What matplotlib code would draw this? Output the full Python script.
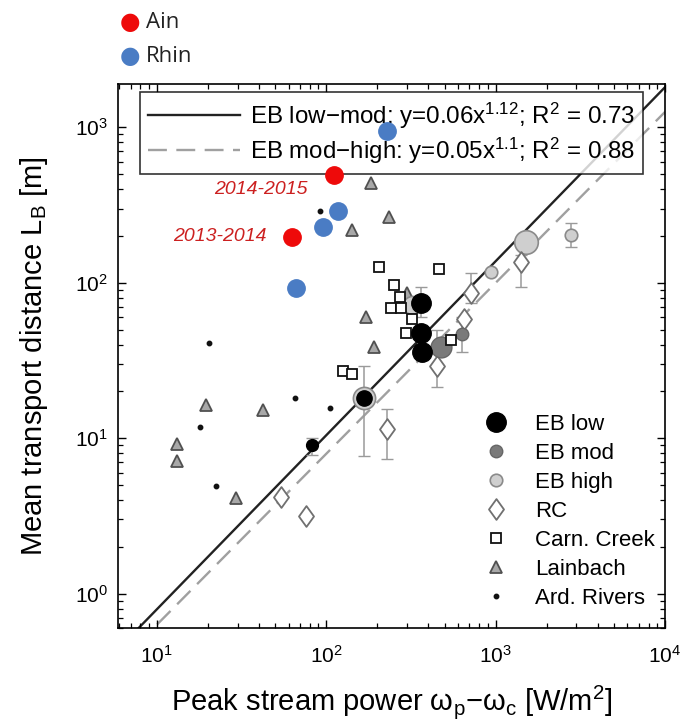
import numpy as np
import matplotlib
matplotlib.use("Agg")
import matplotlib.pyplot as plt
from matplotlib.lines import Line2D
from matplotlib.path import Path

plt.rcParams['font.family'] = ['Liberation Sans', 'DejaVu Sans']
plt.rcParams['mathtext.fontset'] = 'custom'
plt.rcParams['mathtext.rm'] = 'Liberation Sans'
plt.rcParams['mathtext.it'] = 'Liberation Sans:italic'
plt.rcParams['mathtext.bf'] = 'Liberation Sans:bold'

# ---------------- data ----------------
ain_x = [111.4, 63.1]
ain_y = [492, 197]
ain_labels = ["2014-2015", "2013-2014"]

rhin_x = [228.6, 117.7, 96.0, 66.7]
rhin_y = [943, 290, 228.6, 92.9]

eb_low_x = [82.8, 167.5, 362, 362, 367]
eb_low_y = [9.0, 18.0, 74.5, 47.8, 35.6]

eb_mod_x = [474, 631]
eb_mod_y = [38.3, 47.1]

eb_high_x = [167.5, 321, 935, 1521, 2800]
eb_high_y = [18.0, 72, 118, 183, 203]

rc_x = [54.3, 76.2, 228, 450, 648, 713, 1403]
rc_y = [4.19, 3.16, 11.4, 29, 58, 86.3, 136]

carn_x = [205, 462, 251, 272, 241, 276, 321, 296, 543, 126, 142]
carn_y = [127, 123, 97, 81.3, 69, 69, 58, 47.8, 43.1, 26.9, 25.7]

lain_x = [184, 235, 142, 299, 172, 191, 19.4, 42.1, 13.1, 13.1, 29.2]
lain_y = [437, 265, 219, 86, 60.5, 38.3, 16.3, 15.1, 9.15, 7.1, 4.1]

ard_x = [92.2, 20.2, 65.8, 105.6, 17.9, 22.5]
ard_y = [290, 41.2, 18.0, 15.6, 11.8, 4.9]

err_x = [167.5, 362, 82.8, 2800, 631, 228, 450, 713, 1403]
err_lo = [7.7, 60, 7.8, 170, 35.6, 7.3, 21.2, 74, 94]
err_hi = [29, 94, 10, 243, 60.5, 15.3, 50, 115, 151]

fit_low_a, fit_low_b = 0.06, 1.12
fit_high_a, fit_high_b = 0.05, 1.1

# marker sizes (points)
eb_low_ms = [8.5, 11, 14, 14, 14]
eb_mod_ms = [15, 9]
eb_high_ms = [16, 13, 9, 17, 9]

# ---------------- figure ----------------
fig = plt.figure(figsize=(6.83, 7.24), dpi=100)
ax = fig.add_axes([118/683, 96/724, 547/683, 544/724])
ax.set_xscale('log')
ax.set_yscale('log')
ax.set_xlim(5.9, 1e4)
ax.set_ylim(0.6, 1900)

xf = np.logspace(0, 4.5, 200)
ax.plot(xf, fit_low_a * xf**fit_low_b, color='#222222', lw=1.7, zorder=1,
        label="EB low\u2212mod: y=0.06x$^{1.12}$; R$^2$ = 0.73")
ax.plot(xf, fit_high_a * xf**fit_high_b, color='#a0a0a0', lw=1.7, ls=(0, (8, 4)), zorder=1,
        label="EB mod\u2212high: y=0.05x$^{1.1}$; R$^2$ = 0.88")

err_lo_a = np.array(err_lo)
err_hi_a = np.array(err_hi)
ax.errorbar(err_x, err_lo_a, yerr=[np.zeros_like(err_lo_a), err_hi_a - err_lo_a],
            fmt='none', ecolor='#9a9a9a', elinewidth=1.1, capsize=4.5, zorder=2)

diam = Path([(0, 1), (0.72, 0), (0, -1), (-0.72, 0), (0, 1)],
            [Path.MOVETO, Path.LINETO, Path.LINETO, Path.LINETO, Path.CLOSEPOLY])

ax.plot(lain_x, lain_y, ls='none', marker='^', ms=9, mfc='#a8a8a8', mec='#505050', mew=1.3, zorder=3)
ax.plot(ard_x, ard_y, ls='none', marker='o', ms=3.2, mfc='#111111', mec='#111111', zorder=3)
for x, y, m in zip(eb_high_x, eb_high_y, eb_high_ms):
    ax.plot([x], [y], ls='none', marker='o', ms=m, mfc='#cfcfcf', mec='#8a8a8a', mew=1.2, zorder=3)
ax.plot(rc_x, rc_y, ls='none', marker=diam, ms=15, mfc='white', mec='#707070', mew=1.3, zorder=4)
ax.plot(carn_x, carn_y, ls='none', marker='s', ms=6.5, mfc='white', mec='#111111', mew=1.3, zorder=5)
for x, y, m in zip(eb_mod_x, eb_mod_y, eb_mod_ms):
    ax.plot([x], [y], ls='none', marker='o', ms=m, mfc='#7a7a7a', mec='#666666', mew=1.0, zorder=4)
for x, y, m in zip(eb_low_x, eb_low_y, eb_low_ms):
    ax.plot([x], [y], ls='none', marker='o', ms=m, mfc='black', mec='black', zorder=6)

# Ain / Rhin (on top of legend)
ax.plot(ain_x, ain_y, ls='none', marker='o', ms=12.5, mfc='#ee0a0a', mec='#ee0a0a', zorder=10, clip_on=False)
ax.plot(rhin_x, rhin_y, ls='none', marker='o', ms=12.5, mfc='#4a7cc4', mec='#4a7cc4', zorder=10, clip_on=False)
ax.annotate(ain_labels[0], (ain_x[0], ain_y[0]), xytext=(-53, -10), textcoords='offset points',
            ha='center', va='center', color='#cc2020', fontsize=14, style='italic', zorder=10)
ax.annotate(ain_labels[1], (ain_x[1], ain_y[1]), xytext=(-52.5, 0), textcoords='offset points',
            ha='center', va='center', color='#cc2020', fontsize=14, style='italic', zorder=10)

# legends
leg1 = ax.legend(loc='upper left', bbox_to_anchor=(0.04, 0.985), borderaxespad=0,
                 fontsize=17.4, frameon=True, fancybox=False, edgecolor='black',
                 handlelength=3.8, handletextpad=0.4, borderpad=0.35, labelspacing=0.2)
leg1.get_frame().set_linewidth(1.2)
leg1.set_zorder(8)
ax.add_artist(leg1)

handles = [
    Line2D([], [], ls='none', marker='o', ms=14, mfc='black', mec='black'),
    Line2D([], [], ls='none', marker='o', ms=9, mfc='#7a7a7a', mec='#666666'),
    Line2D([], [], ls='none', marker='o', ms=9, mfc='#cfcfcf', mec='#8a8a8a', mew=1.2),
    Line2D([], [], ls='none', marker=diam, ms=15, mfc='white', mec='#707070', mew=1.3),
    Line2D([], [], ls='none', marker='s', ms=6.5, mfc='white', mec='#111111', mew=1.3),
    Line2D([], [], ls='none', marker='^', ms=8, mfc='#a8a8a8', mec='#505050', mew=1.3),
    Line2D([], [], ls='none', marker='o', ms=3.2, mfc='#111111', mec='#111111'),
]
labels = ["EB low", "EB mod", "EB high", "RC", "Carn. Creek", "Lainbach", "Ard. Rivers"]
leg2 = ax.legend(handles, labels, loc='upper left', bbox_to_anchor=(0.645, 0.41), borderaxespad=0,
                 fontsize=16, frameon=False, handlelength=1.5, handletextpad=1.0,
                 labelspacing=0.36)
leg2.set_zorder(8)

# axes style
for s in ax.spines.values():
    s.set_linewidth(1.2)
ax.tick_params(which='both', direction='in', top=True, right=True, labelsize=15)
ax.tick_params(which='major', length=6, width=1)
ax.tick_params(which='minor', length=3.5, width=0.9)
ax.tick_params(axis='x', pad=12)
ax.tick_params(axis='y', pad=7)

ax.set_xlabel("Peak stream power ω$_\\mathregular{p}$\u2212ω$_\\mathregular{c}$ [W/m$^2$]", fontsize=21, labelpad=12)
ax.set_ylabel("Mean transport distance L$_\\mathregular{B}$ [m]", fontsize=21, labelpad=18)

# Ain / Rhin legend above the axes
fig.text(130/683, 1 - 22/724, "\u25cf", color='#ee0a0a', fontsize=17, ha='center', va='center',
         family=['DejaVu Sans'])
fig.text(146/683, 1 - 22/724, "Ain", color='#222222', fontsize=16, ha='left', va='center', family=['Open Sans'])
fig.text(130/683, 1 - 56/724, "\u25cf", color='#4a7cc4', fontsize=17, ha='center', va='center',
         family=['DejaVu Sans'])
fig.text(146/683, 1 - 56/724, "Rhin", color='#222222', fontsize=16, ha='left', va='center', family=['Open Sans'])

fig.savefig("out.png", dpi=100)
